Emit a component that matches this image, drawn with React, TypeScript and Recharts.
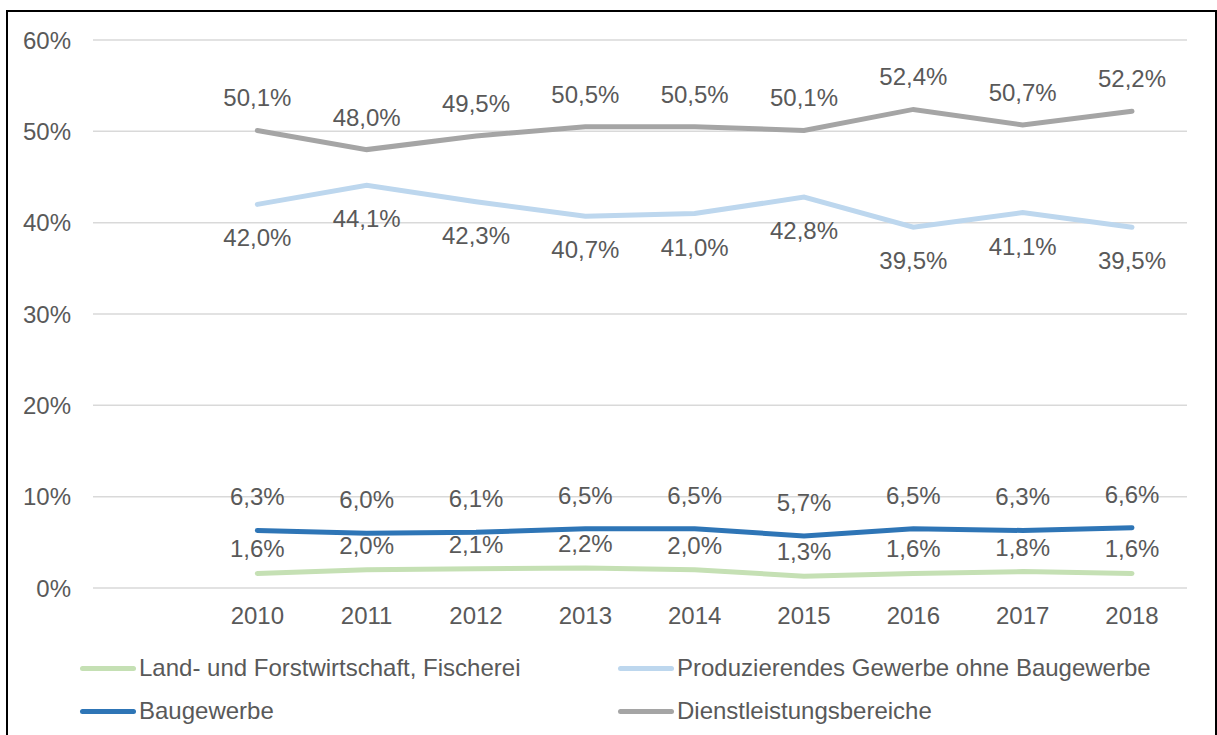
import { CartesianGrid, LabelList, Line, LineChart, XAxis, YAxis } from "recharts";

const years = ["", "2010", "2011", "2012", "2013", "2014", "2015", "2016", "2017", "2018"];
const landwirtschaft = [null, 1.6, 2.0, 2.1, 2.2, 2.0, 1.3, 1.6, 1.8, 1.6];
const produzierend = [null, 42.0, 44.1, 42.3, 40.7, 41.0, 42.8, 39.5, 41.1, 39.5];
const baugewerbe = [null, 6.3, 6.0, 6.1, 6.5, 6.5, 5.7, 6.5, 6.3, 6.6];
const dienstleistung = [null, 50.1, 48.0, 49.5, 50.5, 50.5, 50.1, 52.4, 50.7, 52.2];
const yTicks = [0, 10, 20, 30, 40, 50, 60];

const series = [
  { key: "land", name: "Land- und Forstwirtschaft, Fischerei", color: "#C5E0B4" },
  { key: "prod", name: "Produzierendes Gewerbe ohne Baugewerbe", color: "#BDD7EE" },
  { key: "bau", name: "Baugewerbe", color: "#2E75B6" },
  { key: "dienst", name: "Dienstleistungsbereiche", color: "#A5A5A5" },
];

const data = years.map((year, i) => ({
  year,
  land: landwirtschaft[i],
  prod: produzierend[i],
  bau: baugewerbe[i],
  dienst: dienstleistung[i],
}));

const text = "#595959";
const font = "'Liberation Sans', Arial, sans-serif";
const fs = 24;
const fmt = (v: unknown) => (v == null ? "" : `${Number(v).toFixed(1).replace(".", ",")}%`);

// legend drawn as plain html under the plot so it doesn't shrink the plot area
function LegendBox() {
  return (
    <div style={{ position: "absolute", left: 0, top: 654, width: 1217, height: 80, fontFamily: font, fontSize: fs, color: text }}>
      {series.map((s, i) => (
        <div
          key={s.key}
          style={{
            position: "absolute",
            left: i % 2 === 0 ? 80 : 618,
            top: i < 2 ? 0 : 43,
            height: 28,
            display: "flex",
            alignItems: "center",
            whiteSpace: "nowrap",
          }}
        >
          <span style={{ display: "inline-block", width: 56, height: 5, borderRadius: 3, background: s.color, marginRight: 3 }} />
          {s.name}
        </div>
      ))}
    </div>
  );
}

export default function App() {
  const labelStyle = { fill: text, fontSize: fs, fontFamily: font };
  return (
    <div style={{ position: "absolute", left: 0, top: 0, width: 1217, height: 735, background: "#fff", overflow: "hidden" }}>
      <div style={{ position: "absolute", left: 6, top: 10, width: 1207, height: 740, border: "2px solid #000" }} />
      <LineChart
        data={data}
        height={735}
        margin={{ bottom: 107, left: 0, right: 30, top: 40 }}
        style={{ position: "absolute", left: 0, top: 0, fontFamily: font }}
        width={1217}
      >
        <CartesianGrid stroke="#D9D9D9" strokeWidth={1.5} vertical={false} />
        <XAxis
          axisLine={false}
          dataKey="year"
          height={40}
          interval={0}
          padding={{ left: 55, right: 55 }}
          tick={{ fill: text, fontSize: fs }}
          tickLine={false}
          tickMargin={19}
          tickSize={0}
        />
        <YAxis
          axisLine={false}
          domain={[0, 60]}
          tick={{ fill: text, fontSize: fs }}
          tickFormatter={(v) => `${v}%`}
          tickLine={false}
          tickMargin={22}
          tickSize={0}
          ticks={yTicks}
          width={93}
        />
        <Line dataKey="land" dot={false} isAnimationActive={false} name={series[0].name} stroke={series[0].color} strokeLinecap="round" strokeWidth={5} type="linear">
          <LabelList dataKey="land" formatter={fmt} offset={16} position="top" style={labelStyle} />
        </Line>
        <Line dataKey="prod" dot={false} isAnimationActive={false} name={series[1].name} stroke={series[1].color} strokeLinecap="round" strokeWidth={5} type="linear">
          <LabelList dataKey="prod" formatter={fmt} offset={25} position="bottom" style={labelStyle} />
        </Line>
        <Line dataKey="bau" dot={false} isAnimationActive={false} name={series[2].name} stroke={series[2].color} strokeLinecap="round" strokeWidth={5} type="linear">
          <LabelList dataKey="bau" formatter={fmt} offset={25} position="top" style={labelStyle} />
        </Line>
        <Line dataKey="dienst" dot={false} isAnimationActive={false} name={series[3].name} stroke={series[3].color} strokeLinecap="round" strokeWidth={5} type="linear">
          <LabelList dataKey="dienst" formatter={fmt} offset={24} position="top" style={labelStyle} />
        </Line>
      </LineChart>
      <LegendBox />
    </div>
  );
}
